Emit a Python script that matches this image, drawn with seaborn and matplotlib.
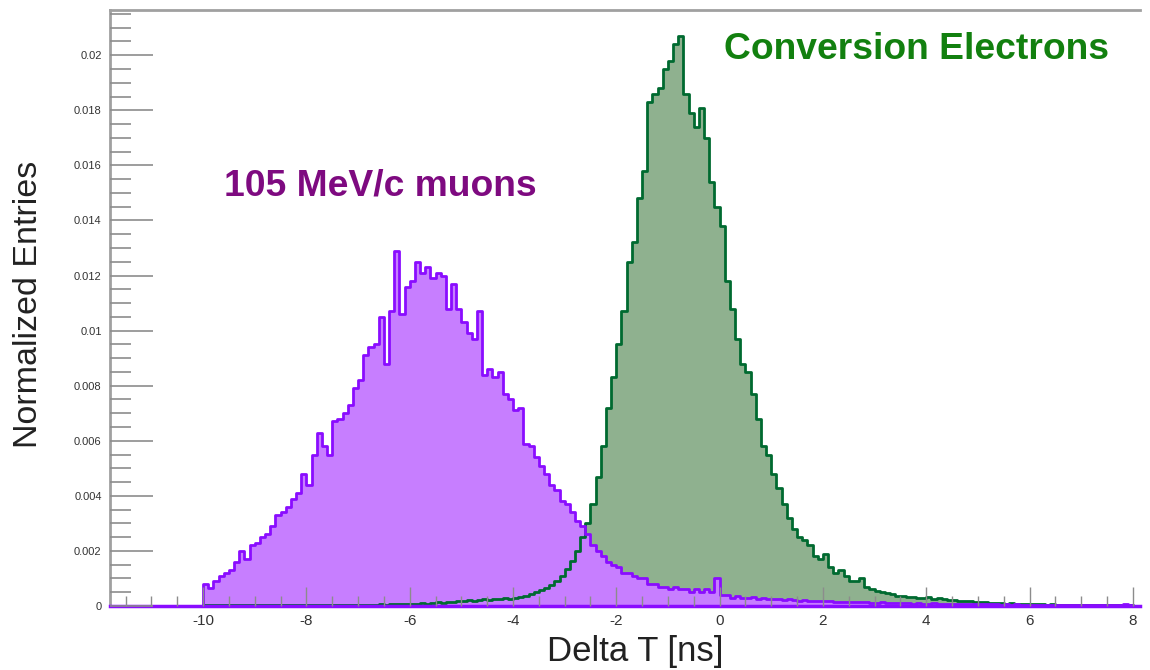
import numpy as np
import pandas as pd
import seaborn as sns
import matplotlib
matplotlib.use("Agg")
import matplotlib.pyplot as plt

# bin layout: 0.1 ns bins from -10 to 8 ns
bin_lo, bin_hi, bin_w = -10.0, 8.0, 0.1

# normalized entries per bin, 105 MeV/c muons (one row per ns)
muon_vals = [
    0.00080, 0.00065, 0.00090, 0.00110, 0.00120, 0.00130, 0.00160, 0.00200, 0.00170, 0.00220,
    0.00230, 0.00250, 0.00260, 0.00290, 0.00330, 0.00340, 0.00360, 0.00390, 0.00410, 0.00480,
    0.00440, 0.00550, 0.00630, 0.00580, 0.00550, 0.00670, 0.00680, 0.00700, 0.00730, 0.00790,
    0.00820, 0.00910, 0.00940, 0.00950, 0.01050, 0.00880, 0.01070, 0.01290, 0.01060, 0.01160,
    0.01180, 0.01250, 0.01210, 0.01230, 0.01190, 0.01210, 0.01200, 0.01080, 0.01170, 0.01080,
    0.01030, 0.00990, 0.00970, 0.01070, 0.00840, 0.00860, 0.00830, 0.00850, 0.00770, 0.00750,
    0.00710, 0.00720, 0.00590, 0.00580, 0.00540, 0.00510, 0.00480, 0.00440, 0.00420, 0.00380,
    0.00370, 0.00340, 0.00310, 0.00290, 0.00260, 0.00220, 0.00200, 0.00180, 0.00160, 0.00150,
    0.00140, 0.00120, 0.00120, 0.00110, 0.00100, 0.00100, 0.00080, 0.00080, 0.00070, 0.00070,
    0.00060, 0.00070, 0.00060, 0.00060, 0.00050, 0.00060, 0.00050, 0.00060, 0.00050, 0.00100,
    0.00040, 0.00040, 0.00030, 0.00035, 0.00030, 0.00028, 0.00032, 0.00027, 0.00030, 0.00026,
    0.00025, 0.00027, 0.00023, 0.00024, 0.00022, 0.00020, 0.00022, 0.00019, 0.00020, 0.00018,
    0.00017, 0.00018, 0.00016, 0.00015, 0.00016, 0.00014, 0.00015, 0.00013, 0.00014, 0.00012,
    0.00012, 0.00013, 0.00011, 0.00012, 0.00010, 0.00011, 0.00010, 0.00009, 0.00010, 0.00009,
    0.00009, 0.00010, 0.00008, 0.00009, 0.00008, 0.00007, 0.00008, 0.00007, 0.00008, 0.00006,
    0.00007, 0.00006, 0.00007, 0.00006, 0.00005, 0.00006, 0.00005, 0.00006, 0.00005, 0.00004,
    0.00005, 0.00004, 0.00005, 0.00004, 0.00004, 0.00005, 0.00004, 0.00003, 0.00004, 0.00003,
    0.00004, 0.00003, 0.00003, 0.00004, 0.00003, 0.00003, 0.00004, 0.00003, 0.00006, 0.00003,
]

# normalized entries per bin, conversion electrons
ce_vals = [
    0.00002, 0.00002, 0.00003, 0.00002, 0.00002, 0.00003, 0.00002, 0.00002, 0.00003, 0.00002,
    0.00002, 0.00003, 0.00002, 0.00003, 0.00002, 0.00003, 0.00003, 0.00002, 0.00003, 0.00003,
    0.00003, 0.00002, 0.00003, 0.00004, 0.00003, 0.00003, 0.00004, 0.00003, 0.00004, 0.00003,
    0.00004, 0.00003, 0.00005, 0.00004, 0.00006, 0.00005, 0.00006, 0.00007, 0.00006, 0.00008,
    0.00007, 0.00009, 0.00010, 0.00009, 0.00011, 0.00013, 0.00012, 0.00015, 0.00016, 0.00018,
    0.00019, 0.00021, 0.00020, 0.00023, 0.00024, 0.00023, 0.00026, 0.00025, 0.00028, 0.00027,
    0.00030, 0.00032, 0.00036, 0.00042, 0.00050, 0.00058, 0.00066, 0.00078, 0.00092, 0.00110,
    0.00135, 0.00165, 0.00200, 0.00250, 0.00300, 0.00370, 0.00470, 0.00580, 0.00720, 0.00830,
    0.00950, 0.01070, 0.01250, 0.01320, 0.01480, 0.01580, 0.01830, 0.01860, 0.01880, 0.01950,
    0.01980, 0.02040, 0.02070, 0.01860, 0.01790, 0.01740, 0.01810, 0.01700, 0.01540, 0.01450,
    0.01380, 0.01180, 0.01080, 0.00970, 0.00880, 0.00850, 0.00770, 0.00680, 0.00580, 0.00550,
    0.00480, 0.00430, 0.00370, 0.00320, 0.00280, 0.00250, 0.00240, 0.00220, 0.00180, 0.00170,
    0.00190, 0.00140, 0.00120, 0.00130, 0.00110, 0.00090, 0.00090, 0.00100, 0.00068, 0.00062,
    0.00056, 0.00052, 0.00047, 0.00044, 0.00038, 0.00036, 0.00033, 0.00031, 0.00030, 0.00028,
    0.00031, 0.00027, 0.00029, 0.00024, 0.00022, 0.00021, 0.00019, 0.00018, 0.00017, 0.00015,
    0.00014, 0.00013, 0.00012, 0.00011, 0.00010, 0.00009, 0.00010, 0.00008, 0.00007, 0.00008,
    0.00006, 0.00007, 0.00006, 0.00005, 0.00006, 0.00005, 0.00004, 0.00005, 0.00003, 0.00004,
    0.00003, 0.00003, 0.00002, 0.00003, 0.00002, 0.00003, 0.00002, 0.00002, 0.00003, 0.00002,
]

x_ticks = [-10, -8, -6, -4, -2, 0, 2, 4, 6, 8]
y_ticks = [0, 0.002, 0.004, 0.006, 0.008, 0.01, 0.012, 0.014, 0.016, 0.018, 0.02]
y_tick_labels = ["0", "0.002", "0.004", "0.006", "0.008", "0.01",
                 "0.012", "0.014", "0.016", "0.018", "0.02"]

# colours
mu_fill, mu_line, mu_text = "#c77eff", "#8a0cff", "#7e0a80"
ce_fill, ce_line, ce_text = "#8fb18f", "#006a30", "#12800f"

sns.set_style("white")
plt.rcParams["font.family"] = ["Liberation Sans", "DejaVu Sans"]

# histogram edges with empty bins outside the filled range (ROOT draws them at 0)
edges = np.round(np.arange(-12.0, 8.4 + 1e-9, bin_w), 2)
centers = (edges[:-1] + edges[1:]) / 2
n_lo = int(round((bin_lo - edges[0]) / bin_w))
n_hi = len(centers) - n_lo - len(muon_vals)
df = pd.DataFrame({
    "dt": centers,
    "mu": np.concatenate([np.zeros(n_lo), muon_vals, np.zeros(n_hi)]),
    "ce": np.concatenate([np.zeros(n_lo), ce_vals, np.zeros(n_hi)]),
})
bin_list = edges.tolist()

fig = plt.figure(figsize=(11.5, 6.7), dpi=100)
ax = fig.add_axes([0.0957, 0.0955, 0.8953, 0.8895])

# fills first (muons on top of electrons), outlines afterwards
sns.histplot(data=df, x="dt", weights="ce", bins=bin_list, element="step", fill=True,
             color=ce_fill, alpha=1.0, linewidth=0, ax=ax)
sns.histplot(data=df, x="dt", weights="mu", bins=bin_list, element="step", fill=True,
             color=mu_fill, alpha=1.0, linewidth=0, ax=ax)
sns.histplot(data=df, x="dt", weights="ce", bins=bin_list, element="step", fill=False,
             color=ce_line, linewidth=2.0, ax=ax)
sns.histplot(data=df, x="dt", weights="mu", bins=bin_list, element="step", fill=False,
             color=mu_line, linewidth=2.0, ax=ax)

ax.set_xlim(-11.8, 8.13)
ax.set_ylim(0, 0.02164)
ax.set_xlabel("")
ax.set_ylabel("")
ax.set_axisbelow(False)

ax.set_xticks(x_ticks)
ax.set_xticklabels([str(t) for t in x_ticks])
ax.set_xticks(np.arange(-11.5, 8.2, 0.5), minor=True)
ax.set_yticks(y_ticks)
ax.set_yticklabels(y_tick_labels)
ax.set_yticks(np.arange(0, 0.0216, 0.0005), minor=True)

ax.tick_params(axis="x", which="both", bottom=True, top=False)
ax.tick_params(axis="y", which="both", left=True, right=False)
ax.tick_params(axis="x", which="major", direction="in", length=14, width=1,
               color="#8c8c8c", labelsize=11, labelcolor="#333333", pad=6)
ax.tick_params(axis="x", which="minor", direction="in", length=7, width=1,
               color="#8c8c8c")
ax.tick_params(axis="y", which="major", direction="in", length=31, width=1.2,
               color="#8c8c8c", labelsize=8, labelcolor="#333333", pad=6)
ax.tick_params(axis="y", which="minor", direction="in", length=15, width=1.2,
               color="#8c8c8c")

for side in ["left", "top"]:
    ax.spines[side].set_color("#a0a0a0")
    ax.spines[side].set_linewidth(2)
ax.spines["bottom"].set_color(mu_line)
ax.spines["bottom"].set_linewidth(2.5)
ax.spines["right"].set_visible(False)

ax.text(0.077, 0.0202, "Conversion Electrons", color=ce_text, fontsize=26.8,
        fontweight="bold", ha="left", va="center")
ax.text(-9.59, 0.01524, "105 MeV/c muons", color=mu_text, fontsize=26.8,
        fontweight="bold", ha="left", va="center")

fig.text(0.0245, 0.545, "Normalized Entries", rotation=90, fontsize=24.5,
         color="#222222", ha="center", va="center")
fig.text(0.552, 0.027, "Delta T [ns]", fontsize=25, color="#222222",
         ha="center", va="center")

fig.savefig("out.png", dpi=100)
